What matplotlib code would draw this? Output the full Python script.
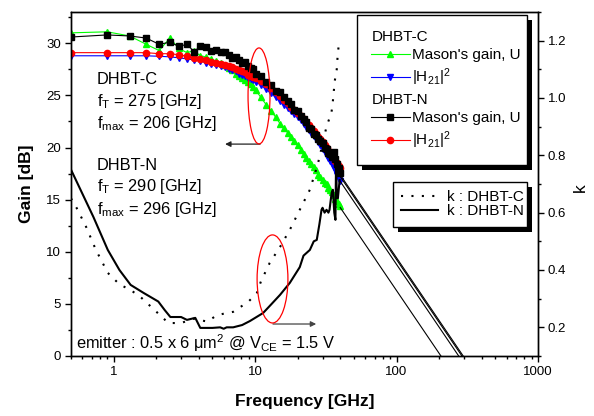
import matplotlib
matplotlib.use('Agg')
import matplotlib.pyplot as plt
import matplotlib.transforms as mtransforms
from matplotlib.lines import Line2D
from matplotlib.patches import Ellipse, Rectangle
from matplotlib.ticker import MultipleLocator, FuncFormatter

plt.rcParams['font.family'] = ['Liberation Sans', 'DejaVu Sans']
plt.rcParams['mathtext.fontset'] = 'custom'
plt.rcParams['mathtext.rm'] = 'Liberation Sans'
plt.rcParams['mathtext.it'] = 'Liberation Sans:italic'
plt.rcParams['mathtext.bf'] = 'Liberation Sans:bold'
plt.rcParams['mathtext.default'] = 'regular'

# frequency sweep [GHz]
freq = [0.5, 0.9, 1.3, 1.7, 2.1, 2.5, 2.9, 3.3, 3.7, 4.1, 4.5, 4.9, 5.3, 5.7,
        6.1, 6.5, 6.9, 7.3, 7.7, 8.1, 8.5, 8.9, 9.3, 9.7, 10.1,
        11, 12, 13, 14, 15, 16, 17, 18, 19, 20, 21, 22, 23, 24, 25,
        26, 27, 28, 29, 30, 31, 32, 33, 34, 35, 36, 37, 38, 39, 40]

# DHBT-C
u_c = [31.0, 31.1, 30.7, 29.9, 29.3, 30.5, 29.5, 29.1, 29.3, 28.8, 28.7, 28.5, 28.3, 28.1,
       27.9, 27.6, 27.4, 27.1, 26.9, 26.7, 26.5, 26.3, 26.1, 25.8, 25.5,
       24.8, 24.1, 23.5, 22.9, 22.3, 21.9, 21.4, 21.0, 20.6, 20.2, 19.8, 19.4, 19.0, 18.7, 18.4,
       18.1, 17.8, 17.4, 17.2, 16.9, 16.6, 16.5, 16.1, 15.9, 15.7, 15.4, 15.1, 14.9, 14.6, 14.4]
h21_c = [28.8, 28.8, 28.8, 28.8, 28.75, 28.7, 28.6, 28.5, 28.4, 28.3, 28.15, 28.0, 27.9, 27.8,
         27.7, 27.5, 27.4, 27.3, 27.1, 27.0, 26.9, 26.7, 26.6, 26.5, 26.3,
         26.0, 25.6, 25.2, 24.8, 24.5, 24.1, 23.8, 23.5, 23.2, 22.9, 22.6, 22.3, 22.0, 21.7, 21.4,
         21.1, 20.8, 20.5, 20.2, 19.9, 19.6, 19.3, 19.0, 18.7, 18.4, 18.1, 17.8, 17.4, 17.1, 16.8]

# DHBT-N
u_n = [30.6, 30.8, 30.7, 30.5, 29.9, 30.1, 29.7, 29.9, 29.2, 29.7, 29.6, 29.3, 29.4, 29.2,
       29.2, 28.9, 28.6, 28.7, 28.4, 28.1, 28.2, 27.8, 27.6, 27.5, 27.1,
       26.9, 26.3, 26.0, 25.4, 25.3, 24.8, 24.5, 24.2, 23.6, 23.5, 23.0, 22.7, 22.4, 21.9, 21.8,
       21.3, 21.2, 20.8, 20.6, 20.4, 20.0, 19.9, 19.5, 19.4, 19.1, 19.6, 18.9, 18.4, 18.0, 17.6]
h21_n = [29.1, 29.1, 29.1, 29.1, 29.0, 29.0, 28.9, 28.75, 28.6, 28.5, 28.35, 28.25, 28.1, 28.0,
         27.9, 27.8, 27.7, 27.5, 27.4, 27.3, 27.2, 27.0, 26.9, 26.8, 26.7,
         26.4, 26.1, 25.7, 25.3, 24.9, 24.6, 24.3, 23.9, 23.6, 23.3, 23.0, 22.7, 22.4, 22.2, 21.9,
         21.6, 21.3, 21.0, 20.8, 20.5, 20.2, 20.0, 19.7, 19.5, 19.2, 19.0, 18.7, 18.5, 18.2, 18.0]

# stability factor k
k_c_freq = [0.5, 0.55, 0.64, 0.75, 0.91, 1.1, 1.32, 1.55, 2.0, 2.44, 3.0, 3.66, 4.6, 5.4,
            7.0, 9.0, 10.3, 11.0, 12.7, 15.0, 17.6, 20.7, 24.4, 27.8, 32.0, 34.7, 35.5,
            36.6, 37.8, 38.5, 39.5]
k_c = [0.65, 0.615, 0.55, 0.47, 0.39, 0.35, 0.33, 0.306, 0.255, 0.215, 0.215, 0.23, 0.22, 0.243,
       0.254, 0.29, 0.32, 0.36, 0.425, 0.48, 0.54, 0.61, 0.68, 0.77, 0.90, 0.95, 0.99,
       1.06, 1.10, 1.16, 1.20]
k_n_freq = [0.5, 0.72, 0.91, 1.1, 1.32, 1.63, 2.07, 2.3, 2.52, 3.0, 3.3, 3.78, 4.1, 5.0,
            5.67, 6.0, 6.3, 7.0, 8.1, 9.2, 11.4, 13.0, 15.0, 17.6, 20.7, 22.0, 24.4, 26.0,
            27.3, 28.5, 29.5, 30.0, 31.0, 32.0, 33.0, 33.6, 34.8, 35.5, 36.3, 37.0, 37.4,
            37.8, 38.5, 39.6]
k_n = [0.75, 0.585, 0.47, 0.40, 0.348, 0.32, 0.29, 0.26, 0.236, 0.236, 0.226, 0.233, 0.198, 0.198,
       0.20, 0.195, 0.20, 0.20, 0.208, 0.222, 0.25, 0.28, 0.313, 0.355, 0.41, 0.45, 0.47, 0.50,
       0.505, 0.56, 0.61, 0.617, 0.60, 0.61, 0.60, 0.61, 0.67, 0.68, 0.60, 0.575, 0.80,
       0.655, 0.65, 0.714]

# -20 dB/dec extrapolation from 40 GHz down to 0 dB
f_cut = [206, 275, 290, 296]
f_start = 40
g_start = [14.24, 16.75, 17.21, 17.38]

fig = plt.figure(figsize=(5.94, 4.16), dpi=100)
ax = fig.add_axes([71 / 594, 1 - 356 / 416, 467 / 594, 344 / 416])
ax2 = ax.twinx()

lw = 0.8
ms = 4.5
l_uc, = ax.plot(freq, u_c, color='#00ff00', marker='^', ms=ms, lw=lw)
l_hc, = ax.plot(freq, h21_c, color='#0000ff', marker='v', ms=ms, lw=lw)
l_hn, = ax.plot(freq, h21_n, color='#ff0000', marker='o', ms=ms, lw=lw)
l_un, = ax.plot(freq, u_n, color='k', marker='s', ms=4, lw=lw)

for fc, g0 in zip(f_cut, g_start):
    ax.plot([f_start, fc], [g0, 0], color='k', lw=0.8)

l_kc, = ax2.plot(k_c_freq, k_c, color='k', lw=1.5, linestyle=(0, (1, 4)))
l_kn, = ax2.plot(k_n_freq, k_n, color='k', lw=1.5)

ax.set_xscale('log')
ax.set_xlim(0.5, 1000)
ax.set_ylim(0, 33)
ax2.set_ylim(0.1, 1.3)
ax.xaxis.set_major_formatter(FuncFormatter(lambda v, p: f'{v:g}'))
ax.yaxis.set_major_locator(MultipleLocator(5))
ax.yaxis.set_minor_locator(MultipleLocator(2.5))
ax2.yaxis.set_major_locator(MultipleLocator(0.2))
ax2.yaxis.set_minor_locator(MultipleLocator(0.1))
ax2.yaxis.set_major_formatter(FuncFormatter(lambda v, p: f'{v:.1f}'))

for a in (ax, ax2):
    a.tick_params(which='major', direction='out', length=4.5, width=1, labelsize=9.5, pad=2.5)
    a.tick_params(which='minor', direction='out', length=2.5, width=1)
    for s in a.spines.values():
        s.set_linewidth(1.0)

ax.set_xlabel('Frequency [GHz]', fontsize=12.5, fontweight='bold')
ax.set_ylabel('Gain [dB]', fontsize=12.5, fontweight='bold')
ax2.set_ylabel('k', fontsize=12.5, rotation=90)
ax.xaxis.set_label_coords(0.5, -0.11)
ax.yaxis.set_label_coords(-0.079, 0.5)
ax2.yaxis.set_label_coords(1.075, 0.49)

# device annotations
ts = 11.8
ax.text(0.0557, 0.791, 'DHBT-C', transform=ax.transAxes, fontsize=ts, va='baseline')
ax.text(0.0557, 0.727, 'f$_T$ = 275 [GHz]', transform=ax.transAxes, fontsize=ts, va='baseline')
ax.text(0.0557, 0.663, 'f$_{max}$ = 206 [GHz]', transform=ax.transAxes, fontsize=ts, va='baseline')
ax.text(0.0557, 0.541, 'DHBT-N', transform=ax.transAxes, fontsize=ts, va='baseline')
ax.text(0.0557, 0.480, 'f$_T$ = 290 [GHz]', transform=ax.transAxes, fontsize=ts, va='baseline')
ax.text(0.0557, 0.413, 'f$_{max}$ = 296 [GHz]', transform=ax.transAxes, fontsize=ts, va='baseline')
ax.text(0.011, 0.020, 'emitter : 0.5 x 6 μm$^2$ @ V$_{CE}$ = 1.5 V', transform=ax.transAxes,
        fontsize=ts, va='baseline')

# ellipses + arrows pointing to the axis used
ax2.add_patch(Ellipse((0.4026, 0.756), 0.047, 0.279, transform=ax2.transAxes,
                      fill=False, edgecolor='red', lw=0.9, zorder=4))
ax2.add_patch(Ellipse((0.4315, 0.224), 0.066, 0.256, transform=ax2.transAxes,
                      fill=False, edgecolor='red', lw=0.9, zorder=4))
ax2.annotate('', xy=(0.33, 0.616), xytext=(0.405, 0.616), xycoords='axes fraction',
             arrowprops=dict(arrowstyle='-|>', color='#222222', lw=0.9, mutation_scale=8,
                             shrinkA=0, shrinkB=0))
ax2.annotate('', xy=(0.525, 0.093), xytext=(0.4325, 0.093), xycoords='axes fraction',
             arrowprops=dict(arrowstyle='-|>', color='#444444', lw=0.9, mutation_scale=8,
                             shrinkA=0, shrinkB=0))

# legends
hdr = Line2D([], [], linestyle='none')
fs = 11
hl = 2.5
hp = 0.15
leg1 = ax2.legend([hdr, l_uc, l_hc, hdr, l_un, l_hn],
                  ['DHBT-C', "Mason's gain, U", '$|H_{21}|^2$',
                   'DHBT-N', "Mason's gain, U", '$|H_{21}|^2$'],
                  loc='upper left', bbox_to_anchor=(0.612, 0.3, 0.364, 0.691), mode='expand',
                  borderaxespad=0, fontsize=fs, handlelength=hl, handletextpad=hp,
                  labelspacing=0.29, borderpad=0.95, fancybox=False, framealpha=1,
                  edgecolor='k')
leg1.get_frame().set_linewidth(1.0)
dx = (hl + hp) * fs * fig.dpi / 72
for i in (0, 3):
    t = leg1.get_texts()[i]
    t.set_transform(t.get_transform() + mtransforms.Affine2D().translate(-dx, 0))
ax2.add_artist(leg1)

leg2 = ax2.legend([l_kc, l_kn], ['k : DHBT-C', 'k : DHBT-N'],
                  loc='upper left', bbox_to_anchor=(0.6895, 0.2, 0.287, 0.306), mode='expand',
                  borderaxespad=0, fontsize=fs, handlelength=2.4, handletextpad=0.6,
                  labelspacing=0.0, borderpad=0.55, fancybox=False, framealpha=1,
                  edgecolor='k')
leg2.get_frame().set_linewidth(1.0)

# black drop shadows behind the legend boxes
fig.canvas.draw()
for leg in (leg1, leg2):
    bb = leg.get_window_extent()
    ax2.add_patch(Rectangle((bb.x0 + 5, bb.y0 - 5), bb.width, bb.height,
                            transform=mtransforms.IdentityTransform(),
                            facecolor='k', edgecolor='none', zorder=4.9))

fig.savefig('out.png', dpi=100)
